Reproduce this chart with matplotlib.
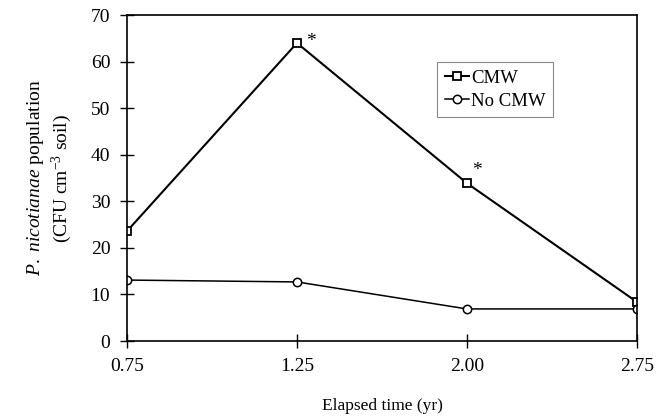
import matplotlib.pyplot as plt

plt.rcParams['font.family'] = 'Liberation Serif'
plt.rcParams['mathtext.fontset'] = 'custom'
plt.rcParams['mathtext.rm'] = 'Liberation Serif'
plt.rcParams['mathtext.it'] = 'Liberation Serif:italic'

# elapsed time categories (yr) and soil populations
years = ['0.75', '1.25', '2.00', '2.75']
cmw = [23.6, 64.0, 33.9, 8.4]
no_cmw = [13.1, 12.7, 6.9, 6.9]
significant = [False, True, True, False]
star_offsets = [None, (10, 1), (7, 9), None]

fig = plt.figure(figsize=(6.6, 4.19), dpi=100)
ax = fig.add_axes([0.1924, 0.186, 0.7726, 0.778])

x = list(range(len(years)))
ax.plot(x, cmw, color='black', linewidth=1.5, marker='s', markersize=6,
        markerfacecolor='white', markeredgewidth=1.3, label='CMW')
ax.plot(x, no_cmw, color='black', linewidth=1.1, marker='o', markersize=6,
        markerfacecolor='white', markeredgewidth=1.1, label='No CMW')

for xi, yi, sig, off in zip(x, cmw, significant, star_offsets):
    if sig:
        ax.annotate('*', (xi, yi), xytext=off, textcoords='offset points',
                    fontsize=14, ha='center', va='center')

ax.set_xlim(0, len(years) - 1)
ax.set_ylim(0, 70)
ax.set_xticks(x)
ax.set_xticklabels(years)
ax.set_yticks(range(0, 71, 10))
ax.tick_params(direction='inout', length=10, width=1.0, labelsize=14, pad=7)
for side in ['left', 'right', 'top', 'bottom']:
    ax.spines[side].set_linewidth(1.2)

ax.set_xlabel('Elapsed time (yr)', fontsize=12.5, labelpad=17)
ax.set_ylabel('$\\it{P.\\ nicotianae}$ population\n(CFU cm$^{-3}$ soil)',
              fontsize=14, labelpad=12, linespacing=1.2)

leg = ax.legend(loc='upper left', bbox_to_anchor=(0.608, 0.855), fontsize=13.5,
                handlelength=1.3, handletextpad=0.1, borderpad=0.4,
                labelspacing=0.3, borderaxespad=0, fancybox=False, framealpha=1)
leg.get_frame().set_edgecolor('#888888')
leg.get_frame().set_linewidth(0.8)

fig.savefig('out.png', dpi=100)
